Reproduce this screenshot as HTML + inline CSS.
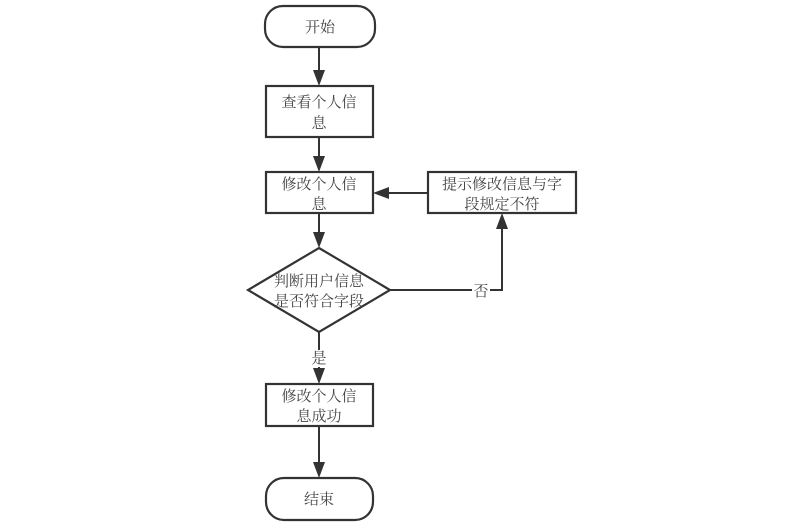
<!DOCTYPE html>
<html><head><meta charset="utf-8"><style>
html,body{margin:0;padding:0;background:#fff;}
svg{display:block;}
text{font-family:"Liberation Serif","Noto Serif CJK SC","Noto Sans CJK SC",serif;font-size:15px;fill:#444;}
</style></head><body>
<svg width="785" height="525" viewBox="0 0 785 525">
<g stroke="#333" stroke-width="2.2" fill="none">
<rect x="265" y="6" width="110" height="41" rx="18" ry="18"/>
<rect x="266" y="86" width="107" height="51"/>
<rect x="266" y="172" width="107" height="41"/>
<rect x="428" y="172" width="148" height="41"/>
<path d="M319,248 L390,290 L319,332 L248,290 Z"/>
<rect x="266" y="384" width="107" height="42"/>
<rect x="266" y="478" width="107" height="42" rx="18" ry="18"/>
</g>
<g stroke="#333" stroke-width="2" fill="none">
<path d="M319,47 V73"/>
<path d="M319,137 V159"/>
<path d="M319,213 V235"/>
<path d="M428,193 H386"/>
<path d="M390,290 H502 V226"/>
<path d="M319,332 V371"/>
<path d="M319,426 V465"/>
</g>
<g fill="#333">
<path d="M313,70 L325,70 L319,86 Z"/>
<path d="M313,156 L325,156 L319,172 Z"/>
<path d="M313,232 L325,232 L319,248 Z"/>
<path d="M389,187 L389,199 L373,193 Z"/>
<path d="M496,229 L508,229 L502,213 Z"/>
<path d="M313,368 L325,368 L319,384 Z"/>
<path d="M313,462 L325,462 L319,478 Z"/>
</g>
<rect x="472" y="282" width="18" height="17" fill="#fff"/>
<rect x="310" y="350" width="18" height="17" fill="#fff"/>
<g text-anchor="middle">
<text x="320" y="32">开始</text>
<text x="319" y="107">查看个人信</text>
<text x="319" y="128">息</text>
<text x="319" y="189">修改个人信</text>
<text x="319" y="209">息</text>
<text x="502" y="189">提示修改信息与字</text>
<text x="502" y="209">段规定不符</text>
<text x="319" y="286">判断用户信息</text>
<text x="319" y="306">是否符合字段</text>
<text x="481" y="296">否</text>
<text x="319" y="363">是</text>
<text x="319" y="401">修改个人信</text>
<text x="319" y="421">息成功</text>
<text x="319" y="504">结束</text>
</g>
</svg>
</body></html>
